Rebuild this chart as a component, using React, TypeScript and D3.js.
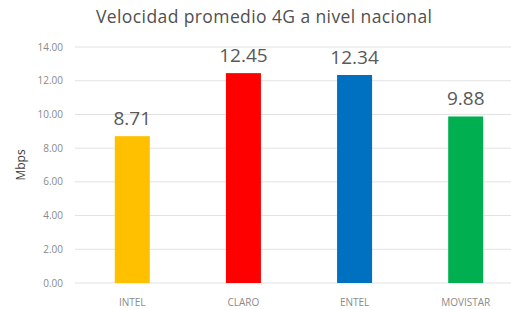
import React from 'react';
import * as d3 from 'd3';

const categories = ['INTEL', 'CLARO', 'ENTEL', 'MOVISTAR'];
const values = [8.71, 12.45, 12.34, 9.88];
const colors = ['#FFC000', '#FF0000', '#0070C0', '#00B050'];
const yTicks = [0, 2, 4, 6, 8, 10, 12, 14];

const width = 511;
const height = 309;

export default function App() {
  const x = d3.scaleBand<string>().domain(categories).range([77, 521]).paddingInner(0.685).paddingOuter(0.34);
  const y = d3.scaleLinear().domain([0, 14]).range([283, 47]);
  const fmt = d3.format('.2f');

  return (
    <svg width={width} height={height} style={{ position: 'absolute', left: 0, top: 0, background: '#fff' }}
      fontFamily="'Open Sans', 'Noto Sans', sans-serif">
      <text x={264} y={23} textAnchor="middle" fontSize={17.5} fill="#505050"
        textLength={336} lengthAdjust="spacing">Velocidad promedio 4G a nivel nacional</text>

      {yTicks.map(t => (
        <g key={t}>
          <line x1={75} x2={511} y1={y(t)} y2={y(t)} stroke="#e2e2e2" strokeWidth={1} />
          <text x={63} y={y(t) + 3.5} textAnchor="end" fontSize={10} fill="#8a8a8a">{fmt(t)}</text>
        </g>
      ))}

      <text transform={`translate(25,${y(7)}) rotate(-90)`} textAnchor="middle" fontSize={12} fill="#404040">Mbps</text>

      {categories.map((c, i) => (
        <g key={c}>
          <rect x={x(c)} y={y(values[i])} width={x.bandwidth()} height={y(0) - y(values[i])} fill={colors[i]} />
          <text x={x(c)! + x.bandwidth() / 2} y={y(values[i]) - 11} textAnchor="middle" fontSize={19} fill="#595959">{fmt(values[i])}</text>
          <text x={x(c)! + x.bandwidth() / 2} y={306} textAnchor="middle" fontSize={10} fill="#8a8a8a">{c}</text>
        </g>
      ))}
    </svg>
  );
}
